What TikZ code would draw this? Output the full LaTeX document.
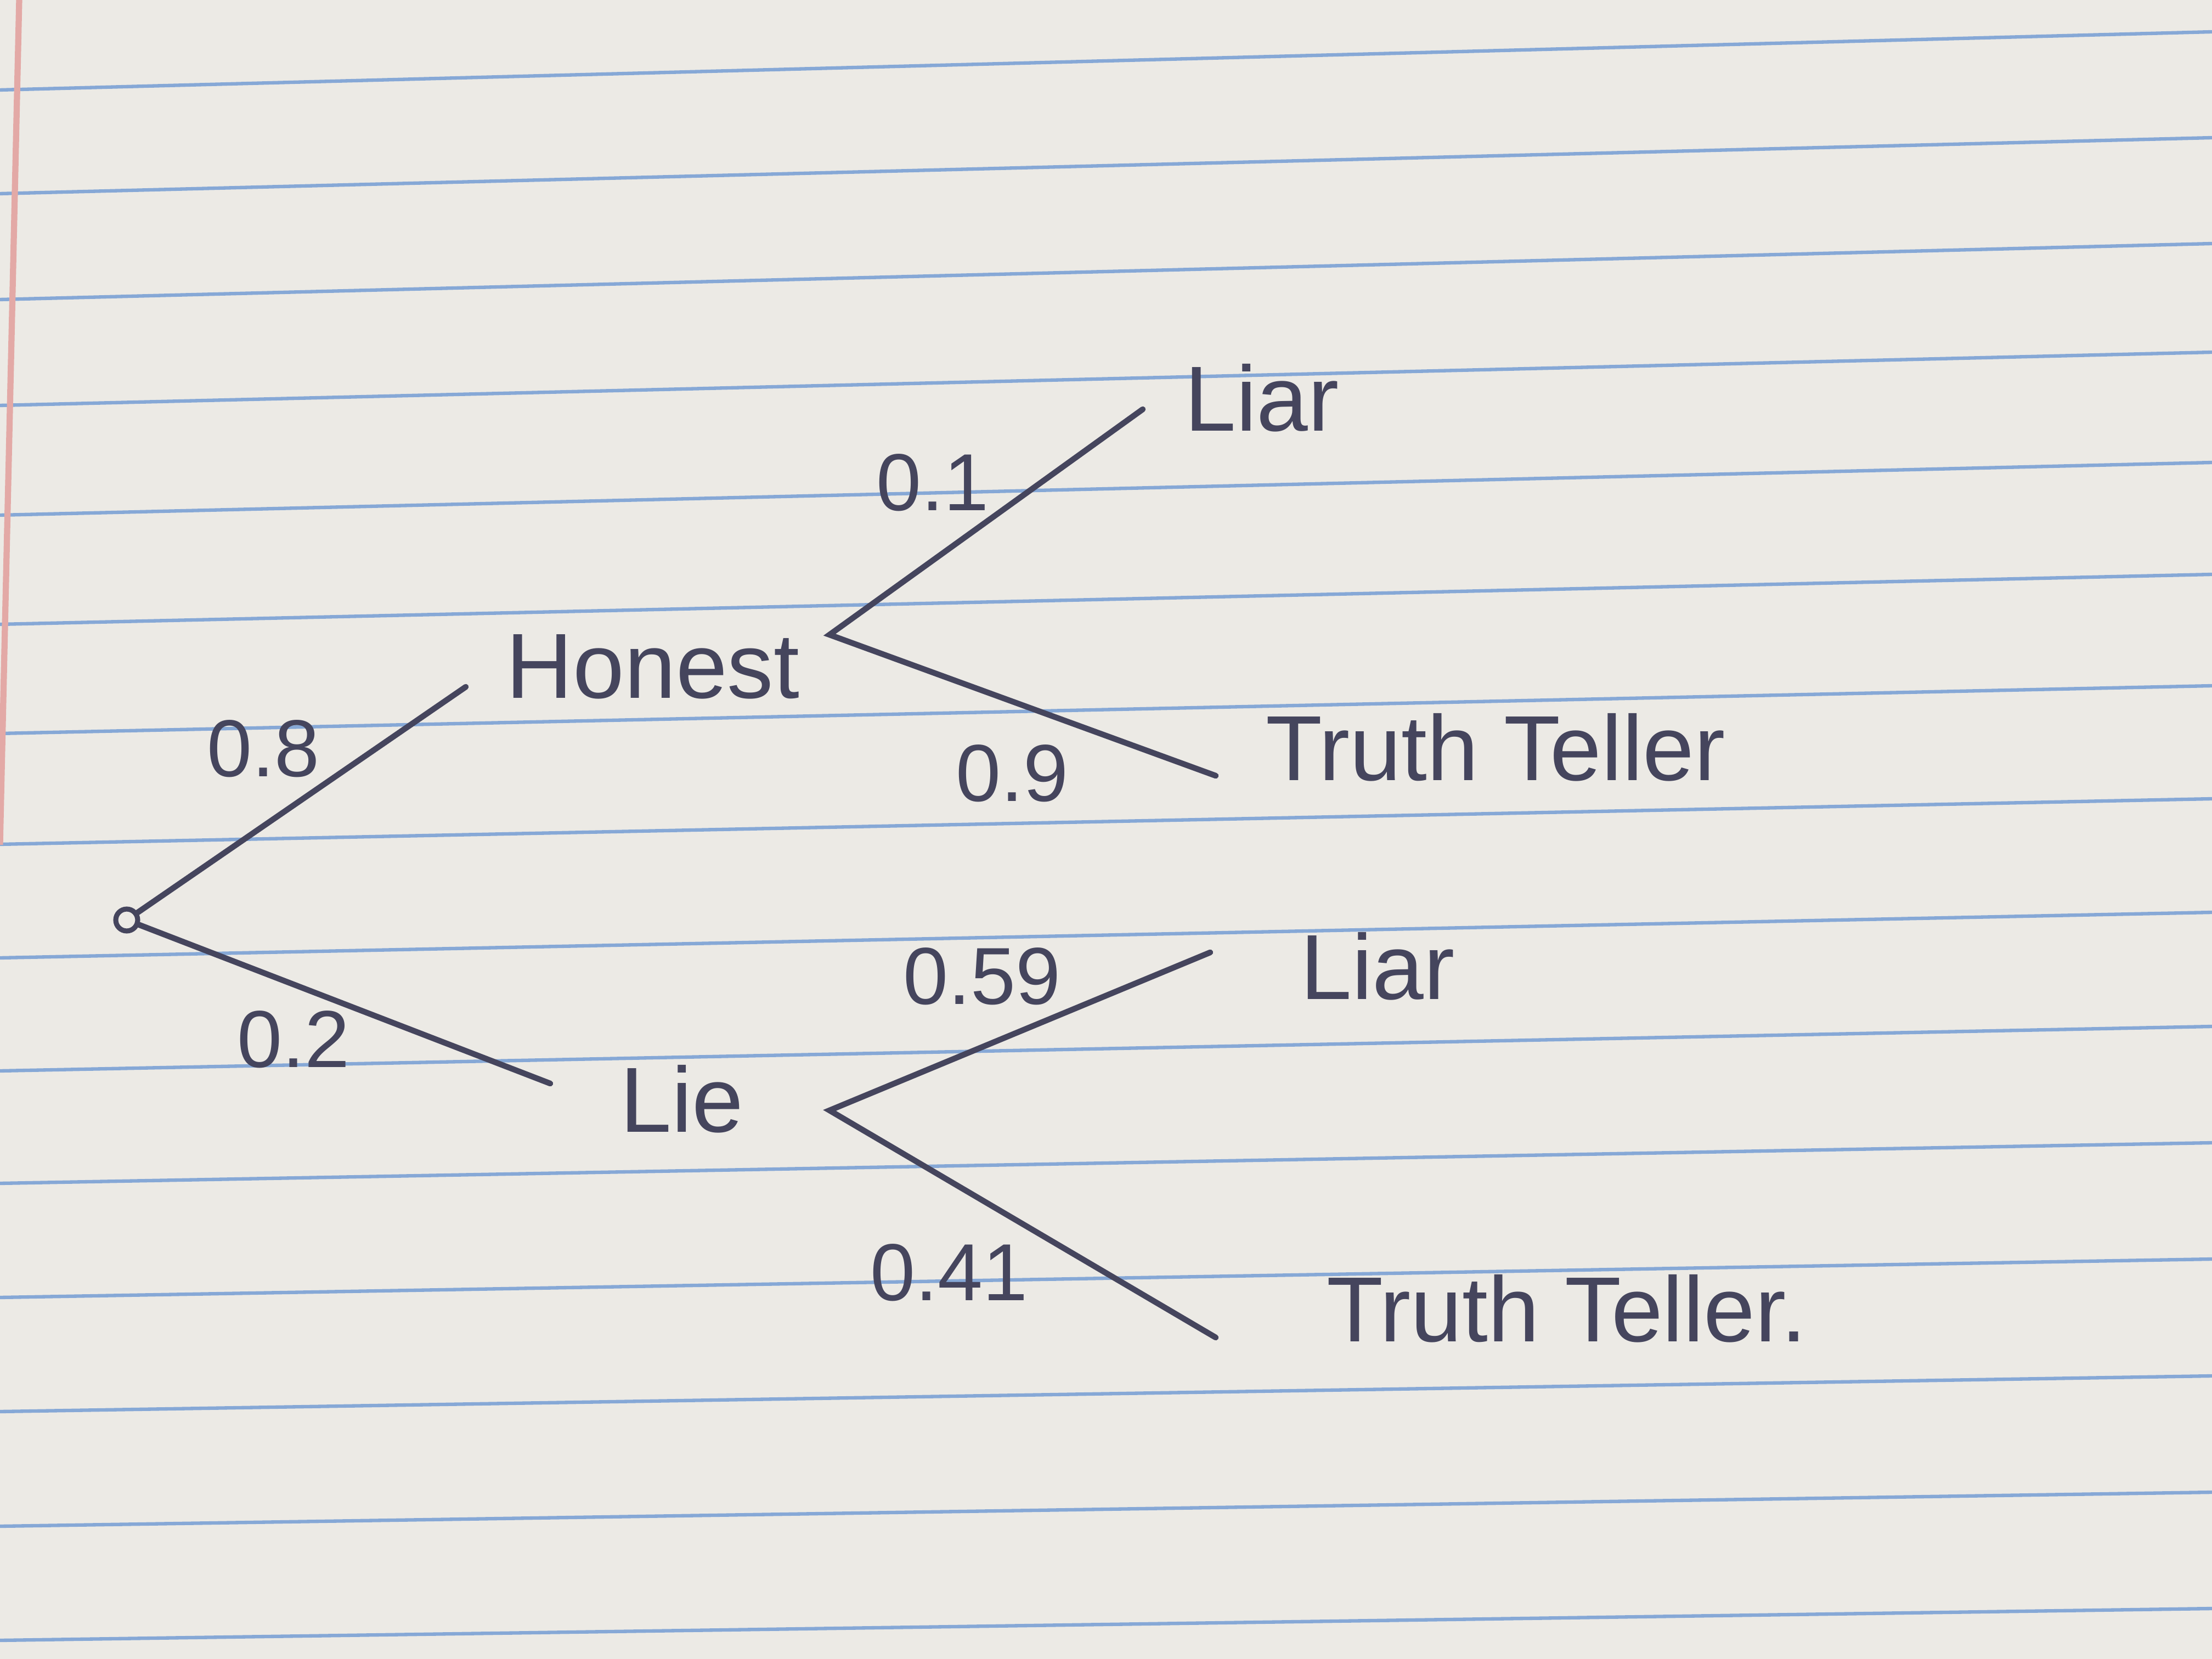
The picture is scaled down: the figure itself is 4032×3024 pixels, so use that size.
\documentclass[tikz,border=0pt]{standalone}
\usepackage{fontspec}
\setmainfont{Liberation Sans}
\usepackage{xcolor}
\usetikzlibrary{positioning}
\definecolor{TreeInk}{HTML}{45455D}
\definecolor{TreePaper}{HTML}{ECEAE5}
\definecolor{TreeRule}{HTML}{86A8D6}
\definecolor{TreeMargin}{HTML}{E3A9A6}

\tikzset{
  branch/.style={TreeInk,line width=1.5pt,line cap=round},
  outcome/.style={text=TreeInk,font=\fontsize{24}{26}\selectfont,inner sep=0pt},
  prob/.style={text=TreeInk,font=\fontsize{21}{23}\selectfont,inner sep=0pt},
}

\begin{document}
\begin{tikzpicture}[x=0.005cm,y=-0.005cm]
    % the ruled sheet
    \fill[TreePaper] (0,0) rectangle (4032,3024);
    \useasboundingbox (0,0) rectangle (4032,3024);
    \foreach \yl/\yr in {164/58,353/251,546/444,739/642,939/843,1138/1047,1337/1250,1539/1456,1746/1663,1952/1871,2157/2083,2365/2295,2573/2508,2782/2720,2990/2932}
      \draw[TreeRule,line width=0.9pt] (0,\yl) -- (4032,\yr);
    \draw[TreeMargin,line width=1.6pt] (35,0) -- (0,1540);

    % first stage
    \node[circle,draw=TreeInk,line width=1.3pt,fill=TreePaper,minimum size=0.2cm,inner sep=0pt] (root) at (231,1677) {};
    \coordinate (honestTip) at (849,1252);
    \coordinate (lieTip) at (1003,1975);
    \node[outcome] (honest) at (1190,1215) {Honest};
    \node[outcome] (lie) at (1243,2003) {Lie};

    % second stage
    \coordinate (honestFork) at (1512,1157);
    \coordinate (lieFork) at (1512,2024);
    \coordinate (hLiarTip) at (2083,746);
    \coordinate (hTruthTip) at (2216,1414);
    \coordinate (lLiarTip) at (2206,1736);
    \coordinate (lTruthTip) at (2216,2438);
    \node[outcome] (hLiar) at (2300,725) {Liar};
    \node[outcome] (hTruth) at (2726,1362) {Truth Teller};
    \node[outcome] (lLiar) at (2511,1761) {Liar};
    \node[outcome] (lTruth) at (2856,2385) {Truth Teller.};

    \draw[branch] (root) -- (honestTip);
    \draw[branch] (root) -- (lieTip);
    \draw[branch] (hLiarTip) -- (honestFork) -- (hTruthTip);
    \draw[branch] (lLiarTip) -- (lieFork) -- (lTruthTip);

    % probabilities
    \node[prob] (pHonest) at (480,1365) {0.8};
    \node[prob] (pLie) at (535,1895) {0.2};
    \node[prob] (pHLiar) at (1700,880) {0.1};
    \node[prob] (pHTruth) at (1845,1410) {0.9};
    \node[prob] (pLLiar) at (1790,1780) {0.59};
    \node[prob] (pLTruth) at (1730,2320) {0.41};
  \end{tikzpicture}
\end{document}
